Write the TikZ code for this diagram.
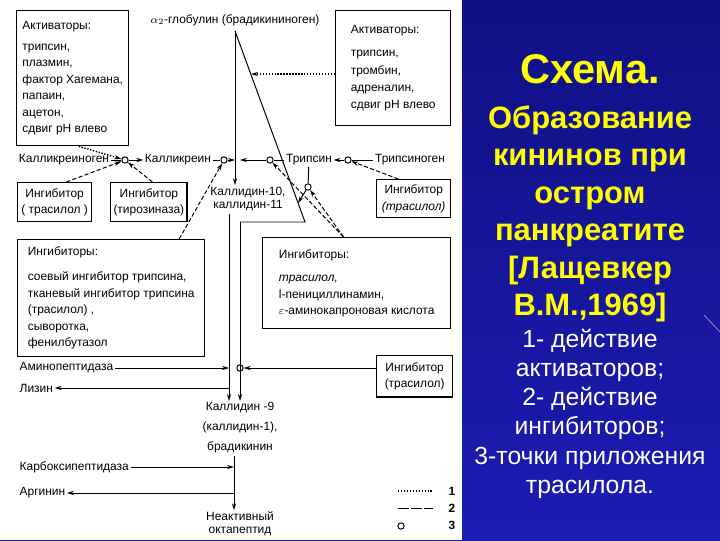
\documentclass[tikz,border=0pt]{standalone}
\usepackage{amsmath}
\usepackage{fontspec}
\setmainfont{Liberation Sans}
\usepackage{tikz}
\usetikzlibrary{arrows.meta}

\newfontfamily\scanfont{Liberation Sans}
\newcommand{\diag}{\scanfont\fontsize{8.5}{11.7}\selectfont}

\definecolor{slidetop}{RGB}{16,16,132}
\definecolor{slidebot}{RGB}{28,28,180}
\definecolor{titleyellow}{RGB}{255,255,0}

\tikzset{
  lbl/.style={font=\diag, inner sep=1pt},
  infobox/.style={draw, line width=1pt, anchor=north west, align=left, font=\diag, inner sep=3pt},
  inhbox/.style={draw, line width=1pt, anchor=north west, align=center, font=\diag, inner sep=2pt},
  pt3/.style={draw, circle, fill=white, inner sep=0pt, minimum size=4.5pt, line width=0.7pt},
  flow/.style={->, line width=0.7pt},
  acts/.style={->, line width=1pt, dash pattern=on 1pt off 1.1pt},
  inhs/.style={->, line width=0.7pt, dash pattern=on 3pt off 1.6pt},
  title/.style={font=\bfseries\fontsize{22}{26}\selectfont, text=titleyellow, anchor=base},
  note/.style={font=\fontsize{17.6}{20}\selectfont, text=white, anchor=base}
}

\begin{document}
\begin{tikzpicture}[x=0.025cm,y=-0.025cm,>={Stealth[length=5pt,width=3pt]}]
\useasboundingbox (0,0) rectangle (720,540);
\shade[top color=slidetop, bottom color=slidebot] (0,0) rectangle (720,540);
\fill[white] (0,0) rectangle (462,540);
\draw[violet!45!white, line width=0.5pt] (704,315) -- (720,332);

% activators
\node[infobox, minimum width=79.7pt, minimum height=96pt] (act1) at (16,10) {Активаторы:\\[3pt] трипсин,\\ плазмин,\\ фактор Хагемана,\\ папаин,\\ ацетон,\\ сдвиг pH влево};
\node[infobox, minimum width=81.8pt, minimum height=81.8pt] (act2) at (335,10) {Активаторы:\\[5pt] трипсин,\\[0.6pt] тромбин,\\[0.6pt] адреналин,\\[0.6pt] сдвиг pH влево};

% kininogen
\node[lbl] (glob) at (235,20) {$\alpha_2$-глобулин (брадикининоген)};
\coordinate (apex) at (235,31);
\coordinate (tri) at (305,222);
\coordinate (elbow) at (240,222);
\coordinate (hit1) at (298,203);
\coordinate (hit2) at (251,74);

% enzymes
\node[lbl] (kgen) at (64,160) {Калликреиноген};
\node[pt3] (c1) at (125,160) {};
\node[lbl] (kal) at (178,160) {Калликреин};
\node[pt3] (c2) at (224,160) {};
\node[pt3] (c3) at (270,160) {};
\node[lbl] (tryp) at (309,160) {Трипсин};
\node[pt3] (c4) at (348,160) {};
\node[lbl] (tgen) at (410,160) {Трипсиноген};
\node[pt3] (c5) at (308,187) {};

\node[lbl, align=center] (k10) at (248,199) {Каллидин-10,\\[-2pt]каллидин-11};

% inhibitors
\node[inhbox, minimum width=52.6pt, minimum height=27.7pt] (inh1) at (17,182) {Ингибитор\\( трасилол )};
\node[inhbox, minimum width=53.3pt, minimum height=27.7pt] (inh2) at (110,182) {Ингибитор\\(тирозиназа)};
\node[inhbox, minimum width=52.6pt, minimum height=27pt] (inh3) at (376,179) {Ингибитор\\\textit{(трасилол)}};
\node[infobox, minimum width=133pt, minimum height=83pt] (inh4) at (17,239) {Ингибиторы:\\[6pt] соевый ингибитор трипсина,\\ тканевый ингибитор трипсина\\ (трасилол) ,\\ сыворотка,\\ фенилбутазол};
\node[infobox, minimum width=133.7pt, minimum height=64.7pt] (inh5) at (262,237) {Ингибиторы:\\[5pt] \textit{трасилол,}\\ l-пенициллинамин,\\ $\varepsilon$-аминокапроновая кислота};
\node[inhbox, minimum width=54pt, minimum height=29.5pt] (inh6) at (376,355) {Ингибитор\\(трасилол)};

% peptidases
\coordinate (lt) at (229,214);
\coordinate (bt) at (234,456);
\node[pt3] (c6) at (240,368) {};
\node[lbl, anchor=west] (amino) at (18,368) {Аминопептидаза};
\node[lbl, anchor=west] (lys) at (18,388) {Лизин};
\node[lbl, align=center] (k9) at (240,428) {Каллидин -9\\[2.5pt](каллидин-1),\\[2.5pt]брадикинин};
\node[lbl, anchor=west] (carb) at (18,467) {Карбоксипептидаза};
\node[lbl, anchor=west] (arg) at (18,493) {Аргинин};
\node[lbl, align=center] (octa) at (240,524) {Неактивный\\[-2.5pt]октапептид};

% substrate lines
\draw[line width=0.7pt] (apex) -- (tri) -- (elbow);
\draw[flow] (apex) -- (apex |- k10.north);
\draw[flow] (elbow) -- (elbow |- k9.north);
\draw[flow] (lt) -- (lt |- k9.north);
\draw[flow] (bt) -- (bt |- octa.north);

\draw[line width=0.7pt] (kgen) -- (c1);
\draw[flow] (c1) -- (kal);
\draw[line width=0.7pt] (kal) -- (c2);
\draw[flow] (c2) -- (c2 -| apex);
\draw[line width=0.7pt] (tryp) -- (c3);
\draw[flow] (c3) -- (c3 -| elbow);
\draw[line width=0.7pt] (tgen) -- (c4);
\draw[flow] (c4) -- (tryp);
\draw[line width=0.7pt] (tryp) -- (c5);
\draw[flow] (c5) -- (hit1);

\draw[flow] (amino) -- (amino -| lt);
\draw[flow] (lys -| lt) -- (lys);
\draw[flow] (carb) -- (carb -| bt);
\draw[flow] (arg -| bt) -- (arg);
\draw[flow] (inh6.west |- c6) -- (c6);

% activator and inhibitor actions
\draw[acts] (act1.-85) -- (c1);
\draw[acts] (act2.west |- hit2) -- (hit2);
\draw[inhs] (inh1.60) -- (c1);
\draw[inhs] (inh2.80) -- (c1);
\draw[inhs] (inh4.41) -- (c2);
\draw[inhs] (inh5.106) -- (c3);
\draw[inhs] (inh5.106) -- (c5);
\draw[inhs] (inh3.128) -- (c4);

% legend
\coordinate (s1) at (398,491);
\coordinate (s2) at (398,508);
\draw[line width=1pt, dash pattern=on 1pt off 1.1pt] (s1) -- +(35,0);
\draw[line width=0.7pt, dash pattern=on 8pt off 1.2pt] (s2) -- +(35,0);
\node[pt3] (c7) at (401,526) {};
\node[lbl, font=\diag\bfseries] (key1) at (452,491) {1};
\node[lbl, font=\diag\bfseries] (key2) at (452,508) {2};
\node[lbl, font=\diag\bfseries] (key3) at (452,525) {3};

% caption
\node[title, font=\bfseries\fontsize{29.5}{31}\selectfont] (t0) at (590,83) {Схема.};
\node[title] (t1) at (590,128) {Образование};
\node[title] (t2) at (590,165) {кининов при};
\node[title] (t3) at (590,203) {остром};
\node[title] (t4) at (590,240) {панкреатите};
\node[title] (t5) at (590,278) {[Лащевкер};
\node[title] (t6) at (590,315) {В.М.,1969]};
\node[note] (n1) at (590,347) {1- действие};
\node[note] (n2) at (590,376) {активаторов;};
\node[note] (n3) at (590,405) {2- действие};
\node[note] (n4) at (590,434) {ингибиторов;};
\node[note] (n5) at (590,464) {3-точки приложения};
\node[note] (n6) at (590,493) {трасилола.};
\end{tikzpicture}
\end{document}
